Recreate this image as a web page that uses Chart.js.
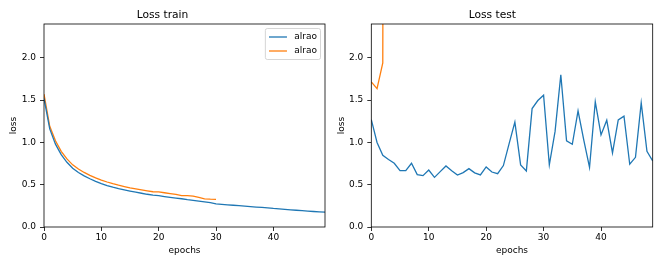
<!DOCTYPE html>
<html><head><meta charset="utf-8">
<script src="https://cdn.jsdelivr.net/npm/chart.js@4"></script>
<style>
body{margin:0;background:#fff;width:664px;height:266px;overflow:hidden;position:relative}
canvas{position:absolute;top:0}
#c1{left:0}#c2{left:332px}
</style></head>
<body>
<canvas id="c1" width="332" height="266"></canvas>
<canvas id="c2" width="332" height="266"></canvas>
<script>
const epochs = [0,1,2,3,4,5,6,7,8,9,10,11,12,13,14,15,16,17,18,19,20,21,22,23,24,25,26,27,28,29,30,31,32,33,34,35,36,37,38,39,40,41,42,43,44,45,46,47,48,49];
const seriesLabels = ['alrao','alrao'];
const chartTitles = ['Loss train','Loss test'];
const xTicks = [0,10,20,30,40];
const yTicks = [0,0.5,1.0,1.5,2.0];

const trainA = [1.52,1.16,0.98,0.855,0.765,0.695,0.645,0.605,0.57,0.54,0.513,0.49,0.47,0.453,0.438,0.424,0.411,0.399,0.387,0.377,0.37,0.36,0.351,0.342,0.334,0.323,0.315,0.306,0.297,0.287,0.274,0.268,0.262,0.257,0.252,0.246,0.241,0.236,0.231,0.226,0.219,0.214,0.208,0.203,0.198,0.193,0.188,0.183,0.179,0.175];
const trainB = [1.57,1.19,1.02,0.895,0.805,0.735,0.685,0.645,0.61,0.58,0.555,0.532,0.512,0.494,0.478,0.463,0.45,0.438,0.427,0.417,0.415,0.405,0.395,0.385,0.372,0.37,0.365,0.35,0.333,0.329,0.327];
const testA = [1.27,1.0,0.847,0.797,0.753,0.666,0.666,0.753,0.619,0.607,0.674,0.587,0.655,0.722,0.666,0.615,0.643,0.69,0.64,0.615,0.71,0.65,0.63,0.726,0.986,1.24,0.734,0.663,1.40,1.495,1.558,0.734,1.13,1.80,1.018,0.978,1.373,1.026,0.706,1.48,1.089,1.262,0.876,1.266,1.31,0.742,0.824,1.467,0.895,0.78];
const testB = [1.715,1.635,1.94,40];

const FONT = '"DejaVu Sans", sans-serif';
const BLUE = '#1f77b4', ORANGE = '#ff7f0e';

const framePlugin = {
  id: 'frame',
  afterDraw(chart) {
    const {ctx, chartArea: a} = chart;
    ctx.save();
    ctx.strokeStyle = '#000';
    ctx.lineWidth = 0.8;
    ctx.strokeRect(a.left, a.top, a.right - a.left, a.bottom - a.top);
    ctx.restore();
  }
};

const legendPlugin = {
  id: 'mplLegend',
  afterDraw(chart) {
    const {ctx, chartArea: a} = chart;
    const ds = chart.data.datasets;
    ctx.save();
    ctx.font = '9px ' + FONT;
    const tw = Math.max(...ds.map(d => ctx.measureText(d.label).width));
    const bp = 3.6, hl = 18, htp = 7.2;
    const w = bp + hl + htp + tw + bp, h = 31;
    const right = a.right - 4.5, top = a.top + 4.5, left = right - w;
    ctx.beginPath();
    ctx.roundRect(left, top, w, h, 2);
    ctx.fillStyle = 'rgba(255,255,255,0.8)';
    ctx.fill();
    ctx.strokeStyle = '#cccccc';
    ctx.lineWidth = 0.8;
    ctx.stroke();
    ds.forEach((d, i) => {
      const y = top + 8.5 + i * 14;
      ctx.beginPath();
      ctx.moveTo(left + bp, y);
      ctx.lineTo(left + bp + hl, y);
      ctx.strokeStyle = d.borderColor;
      ctx.lineWidth = 1.3;
      ctx.stroke();
      ctx.fillStyle = '#000';
      ctx.textBaseline = 'middle';
      ctx.textAlign = 'left';
      ctx.fillText(d.label, left + bp + hl + htp, y);
    });
    ctx.restore();
  }
};

function pts(arr) { return arr.map((v, i) => ({x: epochs[i], y: v})); }

function makeChart(id, title, a, b, yWidth, yTitlePad, padRight, withLegend) {
  const plugins = [framePlugin];
  if (withLegend) plugins.push(legendPlugin);
  return new Chart(document.getElementById(id), {
    type: 'line',
    data: {
      datasets: [
        {label: seriesLabels[0], data: pts(a), borderColor: BLUE, backgroundColor: BLUE, borderWidth: 1.3, pointRadius: 0, tension: 0, fill: false},
        {label: seriesLabels[1], data: pts(b), borderColor: ORANGE, backgroundColor: ORANGE, borderWidth: 1.3, pointRadius: 0, tension: 0, fill: false}
      ]
    },
    plugins: plugins,
    options: {
      responsive: false, animation: false, devicePixelRatio: 1,
      layout: {padding: {left: 0, right: padRight, top: 0, bottom: 0}},
      plugins: {
        legend: {display: false}, tooltip: {enabled: false},
        title: {display: true, text: title, color: '#000',
          font: {family: FONT, size: 10.7, weight: 'normal', lineHeight: 1.2},
          padding: {top: 9, bottom: 2.16}}
      },
      scales: {
        x: {
          type: 'linear', min: 0, max: 49,
          afterBuildTicks: s => { s.ticks = xTicks.map(v => ({value: v})); },
          afterFit: s => { s.height = 39; },
          grid: {drawOnChartArea: false, drawTicks: true, tickLength: 4, color: '#000', lineWidth: 0.8},
          border: {display: false},
          ticks: {color: '#000', font: {family: FONT, size: 9}, padding: 1, maxRotation: 0, autoSkip: false,
            callback: v => String(v)},
          title: {display: true, text: 'epochs', color: '#000', font: {family: FONT, size: 9, lineHeight: 1.2},
            padding: {top: 0, bottom: 10.2}}
        },
        y: {
          type: 'linear', min: 0, max: 2.4,
          afterBuildTicks: s => { s.ticks = yTicks.map(v => ({value: v})); },
          afterFit: s => { s.width = yWidth; },
          grid: {drawOnChartArea: false, drawTicks: true, tickLength: 4, color: '#000', lineWidth: 0.8},
          border: {display: false},
          ticks: {color: '#000', font: {family: FONT, size: 9}, padding: 4, autoSkip: false,
            callback: v => Number(v).toFixed(1)},
          title: {display: true, text: 'loss', color: '#000', font: {family: FONT, size: 9, lineHeight: 1.2},
            padding: {top: yTitlePad, bottom: 0}}
        }
      }
    }
  });
}

makeChart('c1', chartTitles[0], trainA, trainB, 44, 8.3, 7, true);
makeChart('c2', chartTitles[1], testA, testB, 39.3, 4.6, 11.3, false);
</script>
</body></html>
